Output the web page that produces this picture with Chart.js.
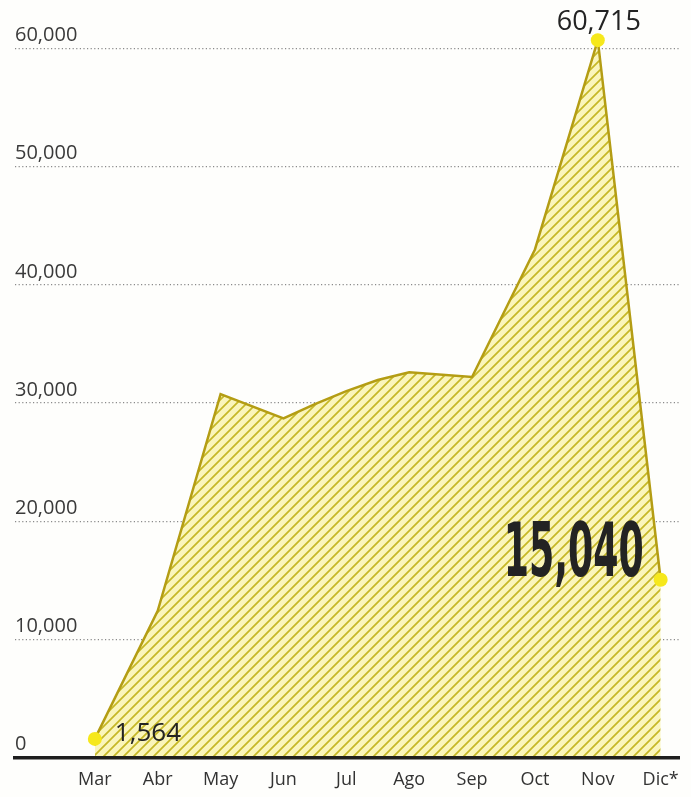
<!DOCTYPE html>
<html>
<head>
<meta charset="utf-8">
<title>Casos por mes</title>
<script src="https://cdn.jsdelivr.net/npm/chart.js@4.4.1/dist/chart.umd.min.js"></script>
<style>
    html, body { margin: 0; padding: 0; background: #fefefc; }
    #wrap { width: 691px; height: 797px; }
</style>
</head>
<body>
<div id="wrap"><canvas id="casos"></canvas></div>
<script>
    // Data (x = month index, Mar = 0)
    var months = ['Mar', 'Abr', 'May', 'Jun', 'Jul', 'Ago', 'Sep', 'Oct', 'Nov', 'Dic*'];
    var yTicks = [0, 10000, 20000, 30000, 40000, 50000, 60000];
    var pointX = [0, 1, 2, 3, 3.5, 4, 4.5, 5, 6, 7, 8, 9];
    var pointY = [1564, 12400, 30750, 28700, 29900, 31000, 31950, 32600, 32200, 43000, 60715, 15040];
    var labelled = [0, 10, 11];

    // Hatched fill
    var hatch = (function () {
        var c = document.createElement('canvas');
        c.width = 10;
        c.height = 10;
        var g = c.getContext('2d');
        g.fillStyle = '#faf5bb';
        g.fillRect(0, 0, 10, 10);
        g.strokeStyle = '#c6b826';
        g.lineWidth = 1.7;
        g.beginPath();
        g.moveTo(0, 10); g.lineTo(10, 0);
        g.moveTo(-1, 1); g.lineTo(1, -1);
        g.moveTo(9, 11); g.lineTo(11, 9);
        g.stroke();
        return g.createPattern(c, 'repeat');
    })();

    function fmt(v) {
        return v.toLocaleString('en-US');
    }

    // Value labels next to the highlighted points
    var valueLabels = {
        id: 'valueLabels',
        afterDatasetsDraw: function (chart) {
            var ctx = chart.ctx;
            var pts = chart.getDatasetMeta(0).data;
            ctx.save();
            ctx.fillStyle = '#232323';

            var p = pts[0];
            ctx.font = '26px "Open Sans", sans-serif';
            ctx.textAlign = 'left';
            ctx.textBaseline = 'alphabetic';
            ctx.fillText(fmt(pointY[0]), p.x + 20, p.y + 2);

            p = pts[10];
            ctx.font = '27px "Open Sans", sans-serif';
            ctx.textAlign = 'center';
            ctx.fillText(fmt(pointY[10]), p.x + 1, p.y - 10);

            p = pts[11];
            ctx.font = 'bold 74px "Liberation Sans Narrow", "DejaVu Sans Condensed", sans-serif';
            ctx.textAlign = 'right';
            var w = ctx.measureText(fmt(pointY[11])).width;
            ctx.translate(p.x - 17, p.y - 4);
            ctx.scale(140 / w, 1);
            ctx.fillText(fmt(pointY[11]), 0, 0);
            ctx.restore();
        }
    };

    var ctx = document.getElementById('casos').getContext('2d');
    var chart = new Chart(ctx, {
        type: 'line',
        data: {
            datasets: [{
                data: pointX.map(function (x, i) { return {x: x, y: pointY[i]}; }),
                borderColor: '#b49d14',
                borderWidth: 2.5,
                backgroundColor: hatch,
                fill: 'origin',
                tension: 0,
                pointRadius: function (c) { return labelled.indexOf(c.dataIndex) >= 0 ? 7 : 0; },
                pointBackgroundColor: '#f6e81c',
                pointBorderWidth: 0
            }]
        },
        options: {
            responsive: true,
            maintainAspectRatio: false,
            animation: false,
            layout: {padding: {left: 15, right: 9, top: 3, bottom: 0}},
            plugins: {
                legend: {display: false},
                tooltip: {enabled: false}
            },
            scales: {
                x: {
                    type: 'linear',
                    min: -1.27,
                    max: 9.3,
                    afterBuildTicks: function (s) {
                        s.ticks = months.map(function (m, i) { return {value: i}; });
                    },
                    afterFit: function (s) {
                        s.height = s.height - 6;
                    },
                    grid: {display: false, drawTicks: false, tickLength: 0},
                    border: {display: true, color: '#1e1e1e', width: 3.5, z: 1},
                    ticks: {
                        callback: function (v) { return months[v]; },
                        font: {family: '"Open Sans", sans-serif', size: 18},
                        color: '#333',
                        padding: 12,
                        maxRotation: 0,
                        autoSkip: false
                    }
                },
                y: {
                    min: 0,
                    max: 63100,
                    afterBuildTicks: function (s) {
                        s.ticks = yTicks.map(function (v) { return {value: v}; });
                    },
                    grid: {
                        drawTicks: false,
                        color: function (c) { return c.tick && c.tick.value === 0 ? 'rgba(0,0,0,0)' : '#8a8a8a'; },
                        lineWidth: 1.2
                    },
                    border: {display: false, dash: [1.2, 2.4]},
                    ticks: {
                        mirror: true,
                        padding: 0,
                        labelOffset: -13,
                        callback: function (v) { return fmt(v); },
                        font: {family: '"Open Sans", sans-serif', size: 20},
                        color: '#3a3a3a'
                    }
                }
            }
        },
        plugins: [valueLabels]
    });
</script>
</body>
</html>
